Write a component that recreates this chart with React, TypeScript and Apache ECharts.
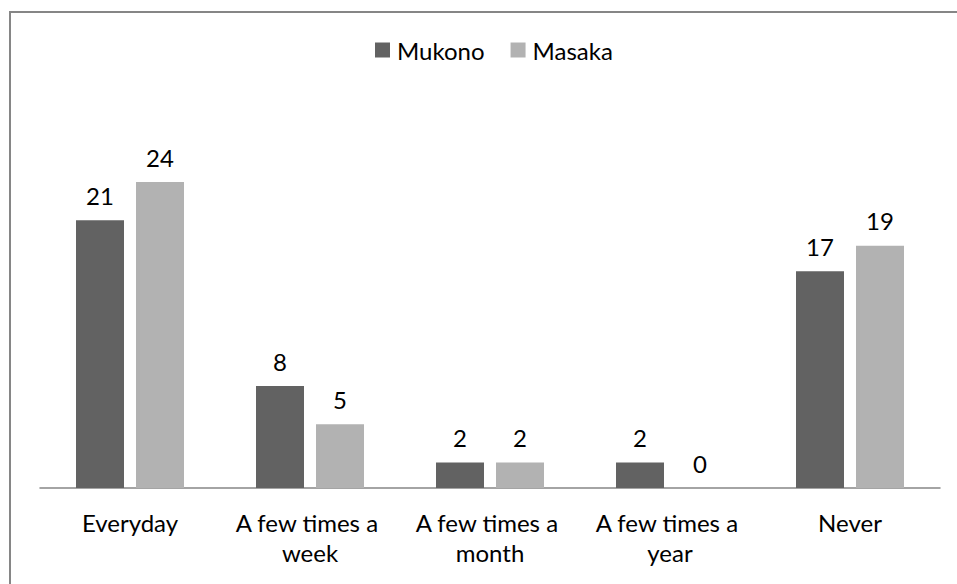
import React, { useEffect, useRef } from "react";
import * as echarts from "echarts";

const categories = ["Everyday", "A few times a week", "A few times a month", "A few times a year", "Never"];
const seriesNames = ["Mukono", "Masaka"];
const mukono = [21, 8, 2, 2, 17];
const masaka = [24, 5, 2, 0, 19];
const colors = ["#626262", "#b2b2b2"];

const FONT = "Lato";
const FS = 24;

export default function App() {
  const ref = useRef<HTMLDivElement>(null);
  useEffect(() => {
    if (!ref.current) return;
    const chart = echarts.init(ref.current, undefined, { renderer: "svg" });
    const labelStyle = {
      show: true,
      position: "top" as const,
      distance: 13,
      color: "#000",
      fontFamily: FONT,
      fontSize: FS,
    };
    chart.setOption({
      animation: false,
      backgroundColor: "#fff",
      textStyle: { fontFamily: FONT },
      graphic: [
        {
          type: "rect",
          shape: { x: 10, y: 12, width: 1200, height: 1200 },
          style: { fill: "none", stroke: "#868686", lineWidth: 2 },
          silent: true,
        },
      ],
      legend: {
        data: seriesNames,
        top: 33,
        left: 370,
        itemWidth: 15,
        itemHeight: 15,
        itemGap: 26,
        icon: "rect",
        textStyle: { fontFamily: FONT, fontSize: FS, color: "#000", padding: [0, 0, 0, 2] },
      },
      grid: { left: 40, right: 17, top: 105.5, bottom: 96, containLabel: false },
      xAxis: {
        type: "category",
        data: categories,
        axisLine: { show: true, lineStyle: { color: "#868686", width: 1.5 } },
        axisTick: { show: false },
        axisLabel: {
          interval: 0,
          margin: 19,
          color: "#000",
          fontFamily: FONT,
          fontSize: FS,
          lineHeight: 30,
          width: 172,
          overflow: "break",
        },
      },
      yAxis: {
        type: "value",
        min: 0,
        max: 30,
        show: false,
        splitLine: { show: false },
      },
      series: [
        {
          name: seriesNames[0],
          type: "bar",
          data: mukono,
          barWidth: 48,
          barGap: "25%",
          itemStyle: { color: colors[0] },
          label: labelStyle,
        },
        {
          name: seriesNames[1],
          type: "bar",
          data: masaka,
          barWidth: 48,
          barGap: "25%",
          itemStyle: { color: colors[1] },
          label: labelStyle,
        },
      ],
    });
    return () => chart.dispose();
  }, []);
  return (
    <div
      ref={ref}
      style={{ position: "fixed", left: 0, top: 0, width: 957, height: 584 }}
    />
  );
}
